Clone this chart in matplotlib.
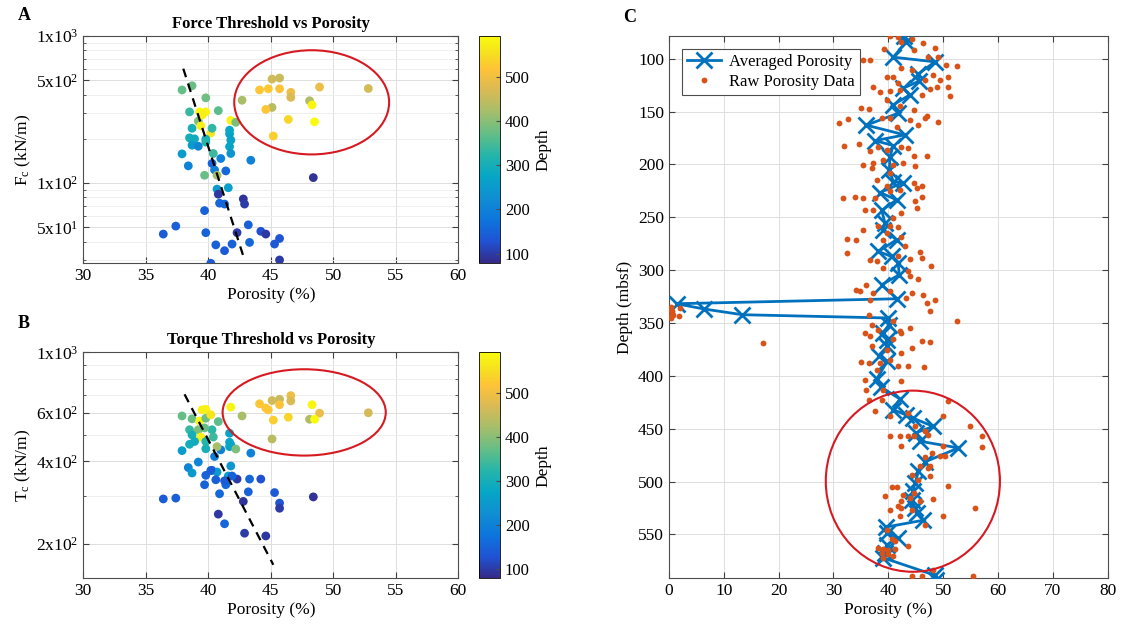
import matplotlib
matplotlib.use("Agg")
import matplotlib.pyplot as plt
from matplotlib.colors import LinearSegmentedColormap
from matplotlib.patches import Ellipse
from matplotlib.ticker import NullFormatter

# ---- samples: porosity, depth, force and torque thresholds ----
porosity = [
    36.4, 37.4, 37.9, 38.7, 37.9, 38.4, 38.5, 39.3, 39.8, 39.8,
    40.8, 39.2, 39.4, 40.2, 38.7, 40.3, 38.5, 38.9, 38.7, 39.2,
    39.8, 40.4, 41.0, 40.3, 40.5, 39.7, 40.7, 41.4, 41.7, 41.8,
    41.7, 41.8, 41.8, 42.2, 41.7, 43.4, 40.7, 40.8, 41.6, 40.9,
    41.3, 42.8, 42.9, 39.7, 39.8, 42.3, 43.2, 44.2, 44.6, 45.7,
    45.3, 40.6, 41.3, 41.9, 43.3, 45.7, 40.2, 48.4, 42.7, 44.1,
    44.8, 45.1, 45.7, 45.7, 46.6, 46.6, 48.9, 52.8, 48.1, 48.3,
    45.1, 44.6, 46.4, 48.5, 45.2, 39.5, 39.8,
]
depth = [
    140, 145, 370, 375, 255, 205, 335, 585, 580, 380,
    365, 390, 575, 560, 300, 330, 295, 290, 250, 210,
    300, 340, 200, 150, 195, 375, 425, 160, 270, 265,
    270, 240, 580, 390, 275, 200, 250, 95, 260, 160,
    155, 92, 100, 150, 150, 100, 150, 125, 95, 130,
    135, 145, 140, 150, 155, 100, 140, 90, 425, 520,
    525, 460, 455, 515, 495, 470, 490, 465, 430, 585,
    440, 520, 540, 590, 530, 575, 320,
]
force_c = [
    45, 51, 430, 459, 158, 131, 305, 305, 305, 380,
    311, 264, 245, 219, 236, 236, 203, 200, 181, 178,
    199, 159, 147, 136, 123, 113, 113, 121, 216, 196,
    177, 159, 267, 259, 229, 143, 91, 84, 93, 73,
    72, 78, 72, 65, 46, 46, 52, 47, 45, 42,
    38.5, 38, 34.7, 38.5, 39.5, 30, 28.5, 109, 366, 430,
    438, 510, 518, 438, 414, 383, 450, 440, 363, 340,
    327, 317, 271, 261, 209, 290, 190,
]
torque_c = [
    292, 294, 586, 572, 438, 380, 522, 562, 620, 575,
    559, 522, 491, 592, 500, 522, 462, 473, 363, 398,
    445, 491, 441, 371, 417, 530, 453, 329, 507, 460,
    453, 385, 631, 444, 470, 429, 366, 257, 354, 305,
    237, 286, 219, 329, 356, 345, 310, 345, 214, 282,
    308, 343, 340, 354, 345, 270, 371, 297, 586, 649,
    617, 667, 674, 644, 695, 665, 600, 602, 570, 644,
    483, 626, 580, 570, 566, 617, 473,
]

# trend lines (porosity, value) end points
force_trend_por = [38.0, 42.9]
force_trend_val = [600, 30]
torque_trend_por = [38.1, 45.2]
torque_trend_val = [703, 168]

# ---- averaged porosity profile ----
avg_depth = [
    78.5, 83.9, 98.6, 103.0, 114.4, 121.3, 128.0, 134.3, 143.7, 151.6,
    162.9, 172.1, 177.5, 182.2, 192.6, 205.2, 216.2, 217.2, 226.6, 233.5,
    243.6, 255.5, 261.9, 271.3, 282.4, 287.1, 293.3, 304.4, 313.8, 327.1,
    331.8, 336.8, 342.2, 345.3, 351.6, 359.5, 365.8, 372.2, 381.6, 386.3,
    403.0, 410.6, 421.9, 432.0, 437.0, 440.0, 447.8, 454.0, 461.9, 468.2,
    481.4, 490.3, 501.3, 509.2, 517.1, 525.0, 529.7, 536.6, 543.0, 548.6,
    553.3, 559.6, 567.5, 572.2, 588.6, 592.7,
]
avg_por = [
    42.9, 43.3, 40.9, 48.5, 45.5, 45.6, 42.7, 43.9, 40.9, 41.8,
    36.0, 43.0, 37.6, 40.9, 40.3, 40.2, 40.9, 42.7, 38.5, 41.5,
    38.8, 39.4, 39.1, 41.5, 38.2, 40.6, 41.8, 42.0, 38.8, 41.6,
    1.4, 6.4, 13.4, 40.0, 40.1, 39.1, 39.7, 39.8, 38.3, 39.8,
    37.9, 38.7, 42.1, 40.9, 43.2, 44.5, 48.2, 45.0, 45.8, 52.8,
    46.7, 45.5, 44.9, 44.5, 44.3, 44.9, 45.2, 46.4, 39.6, 39.7,
    41.8, 39.8, 39.4, 39.1, 48.5, 48.7,
]

# ---- raw porosity measurements ----
raw_depth = [
    78.5, 79.8, 81.7, 84.8, 83.8, 91.1, 89.5, 91.7, 98.7, 101.2,
    101.2, 105.9, 106.5, 98.7, 109.1, 110.6, 115.4, 120.1, 117.6, 126.4,
    135.2, 116.9, 117.6, 123.2, 120.1, 128.9, 127.0, 131.1, 130.2, 129.5,
    134.3, 127.0, 146.9, 147.8, 139.0, 144.7, 148.5, 154.1, 156.3, 159.5,
    157.3, 160.4, 156.3, 156.3, 157.9, 162.6, 164.2, 182.5, 180.9, 187.8,
    183.1, 186.3, 183.1, 184.7, 192.0, 192.0, 200.4, 198.9, 195.7, 200.4,
    198.9, 201.4, 203.6, 214.6, 208.3, 217.8, 222.5, 220.9, 225.6, 224.6,
    231.9, 230.4, 231.9, 231.9, 220.9, 235.1, 230.4, 243.6, 243.0, 241.4,
    246.1, 250.8, 261.9, 258.7, 258.7, 259.7, 265.0, 270.7, 271.3, 271.3,
    268.8, 277.6, 283.9, 290.2, 291.8, 287.1, 289.6, 283.0, 288.6, 296.0,
    298.1, 301.3, 305.9, 308.5, 313.8, 320.2, 318.6, 321.7, 320.2, 321.7,
    323.3, 328.0, 328.0, 326.5, 331.2, 339.1,
    334.5, 337.5, 339.0, 340.6, 342.0, 343.5, 345.0, 343.0, 336.0,
    342.2, 348.5, 354.8, 359.5, 351.6, 356.4, 348.5, 358.0, 369.0,
    362.0, 365.2, 359.5, 373.7, 367.4, 368.3, 372.1, 375.3, 378.4, 386.9,
    387.9, 387.9, 384.7, 391.0, 391.0, 392.0,
    394.2, 404.2, 404.6, 413.0, 413.0, 422.5, 422.5, 424.1, 432.9, 435.1,
    438.3, 438.3, 447.7, 447.7, 452.4, 456.5, 457.2, 457.2, 457.2, 455.6,
    457.2, 466.6, 466.6, 467.6, 472.9, 475.4, 476.1, 476.7, 485.5, 487.1,
    485.5, 495.0, 493.4, 498.1, 503.8, 505.4, 505.1, 510.7, 513.9, 512.3,
    515.5, 516.4, 518.6, 518.6, 524.9, 523.3, 524.9, 526.5, 527.1, 532.8,
    532.8, 540.7, 545.4, 554.8, 556.4, 561.1, 562.7, 563.7, 564.3, 563.7,
    567.4, 569.0, 570.6, 572.2, 588.9, 588.9, 588.9, 583.2,
]
raw_por = [
    40.3, 41.7, 44.3, 46.4, 42.4, 39.3, 48.5, 44.6, 49.1, 35.4,
    36.7, 50.6, 52.5, 47.3, 42.4, 44.3, 48.2, 49.4, 50.9, 50.9,
    51.2, 39.7, 40.9, 41.8, 46.7, 47.6, 37.3, 38.4, 40.3, 42.1,
    46.1, 48.8, 35.1, 36.4, 39.7, 42.1, 44.6, 47.0, 46.7, 49.1,
    32.7, 31.1, 38.8, 40.3, 44.0, 45.5, 41.5, 32.0, 34.7, 36.7,
    38.2, 39.7, 42.4, 43.6, 44.6, 47.0, 35.4, 37.3, 39.1, 40.9,
    42.7, 44.9, 37.0, 37.9, 40.3, 44.6, 45.2, 46.1, 40.3, 42.1,
    31.8, 33.9, 35.4, 37.6, 39.7, 44.9, 46.1, 35.7, 37.3, 45.2,
    42.4, 40.9, 35.4, 38.2, 40.3, 41.8, 39.7, 32.4, 34.2, 39.1,
    42.4, 43.0, 32.5, 36.7, 37.9, 41.8, 44.0, 45.7, 46.1, 47.8,
    39.1, 43.6, 44.0, 45.5, 36.0, 34.8, 34.2, 37.3, 40.3, 44.3,
    46.4, 48.5, 36.6, 43.3, 47.0, 47.6,
    0.3, 0.4, 0.5, 0.5, 0.7, 0.4, 0.3, 1.8, 2.0,
    36.4, 52.5, 44.0, 35.7, 37.0, 38.2, 40.9, 42.1, 17.2,
    36.7, 40.9, 42.4, 44.3, 46.1, 47.6, 37.0, 39.7, 42.4, 35.1,
    36.4, 38.5, 40.3, 41.8, 43.6, 46.5,
    37.9, 35.7, 42.4, 36.0, 39.0, 36.5, 38.8, 50.9, 37.6, 43.6,
    40.3, 50.0, 44.9, 54.9, 46.7, 40.3, 42.1, 43.6, 44.6, 47.3,
    57.0, 42.4, 50.0, 57.0, 47.9, 49.4, 50.3, 46.7, 45.8, 47.3,
    47.6, 47.6, 44.3, 45.5, 50.9, 40.6, 41.5, 44.6, 39.4, 42.7,
    44.0, 48.2, 42.4, 45.8, 55.8, 41.8, 42.4, 44.3, 40.3, 50.0,
    42.1, 46.7, 39.7, 40.6, 41.2, 43.6, 38.2, 39.1, 40.0, 41.2,
    38.8, 40.0, 40.9, 39.1, 44.3, 46.1, 55.5, 48.2,
]

# parula-like colour map
parula_anchors = [
    (0.0, (0.2081, 0.1663, 0.5292)),
    (0.095, (0.1253, 0.3242, 0.8303)),
    (0.19, (0.0498, 0.4586, 0.8641)),
    (0.286, (0.0641, 0.5570, 0.8240)),
    (0.381, (0.0228, 0.6535, 0.7768)),
    (0.476, (0.1453, 0.7098, 0.6646)),
    (0.571, (0.3953, 0.7459, 0.5244)),
    (0.667, (0.6473, 0.7456, 0.4188)),
    (0.762, (0.8507, 0.7299, 0.3360)),
    (0.857, (0.9990, 0.7653, 0.2164)),
    (0.921, (0.9626, 0.8705, 0.1309)),
    (1.0, (0.9763, 0.9831, 0.0538)),
]
parula = LinearSegmentedColormap.from_list("parula", parula_anchors)

BLUE = (0.0, 0.447, 0.741)
ORANGE = (0.85, 0.325, 0.098)
RED = (0.84, 0.1, 0.13)
DEPTH_MIN, DEPTH_MAX = 78.5, 591.5

plt.rcParams["font.family"] = ["Liberation Serif", "DejaVu Serif"]
plt.rcParams["mathtext.fontset"] = "custom"
plt.rcParams["mathtext.rm"] = "Liberation Serif"
plt.rcParams["mathtext.it"] = "Liberation Serif:italic"


def style_axes(ax):
    ax.tick_params(which="both", direction="in", top=True, right=True,
                   labelsize=12.5, color="0.25")
    ax.tick_params(which="major", length=4)
    ax.tick_params(which="minor", length=2)
    for sp in ax.spines.values():
        sp.set_color("0.3")
        sp.set_linewidth(0.8)
    ax.grid(True, which="major", color="0.87", linewidth=0.7)
    ax.set_axisbelow(True)


def threshold_panel(fig, rect, cbar_rect, values, ylim, yticks, ylabels,
                    trend_por, trend_val, title, ylabel, ellipse):
    ax = fig.add_axes(rect)
    style_axes(ax)
    ax.set_yscale("log")
    ax.grid(True, which="minor", axis="y", color="0.93", linewidth=0.6)
    sc = ax.scatter(porosity, values, c=depth, cmap=parula,
                    vmin=DEPTH_MIN, vmax=DEPTH_MAX, s=40, linewidths=0,
                    zorder=3)
    ax.plot(trend_por, trend_val, color="k", linestyle=(0, (4, 3)),
            linewidth=1.6, zorder=4)
    ax.add_patch(Ellipse(ellipse[:2], ellipse[2], ellipse[3],
                         transform=ax.transAxes, fill=False, edgecolor=RED,
                         linewidth=1.5, zorder=5))
    ax.set_xlim(30, 60)
    ax.set_ylim(*ylim)
    ax.set_xticks(range(30, 61, 5))
    ax.set_yticks(yticks)
    ax.set_yticklabels(ylabels)
    ax.yaxis.set_minor_formatter(NullFormatter())
    ax.set_xlabel("Porosity (%)", fontsize=12.5, labelpad=2)
    ax.set_ylabel(ylabel, fontsize=12.5, labelpad=2)
    ax.set_title(title, fontsize=12, fontweight="bold", pad=6)

    cax = fig.add_axes(cbar_rect)
    cb = fig.colorbar(sc, cax=cax)
    cb.set_ticks([100, 200, 300, 400, 500])
    cb.outline.set_linewidth(0.6)
    cax.tick_params(direction="in", length=3, labelsize=12, color="0.3")
    cb.set_label("Depth", fontsize=12.5, labelpad=4)
    return ax


def main():
    fig = plt.figure(figsize=(11.3, 6.27), dpi=100)

    threshold_panel(
        fig, [0.0737, 0.5805, 0.3319, 0.362], [0.4239, 0.5805, 0.0186, 0.362],
        force_c, (28.6, 1000), [50, 100, 500, 1000],
        ["5x10$^1$", "1x10$^2$", "5x10$^2$", "1x10$^3$"],
        force_trend_por, force_trend_val,
        "Force Threshold vs Porosity", "F$_\\mathrm{c}$ (kN/m)",
        (0.609, 0.708, 0.413, 0.459),
    )
    threshold_panel(
        fig, [0.0737, 0.0777, 0.3319, 0.3604], [0.4239, 0.0777, 0.0186, 0.3604],
        torque_c, (150, 1000), [200, 400, 600, 1000],
        ["2x10$^2$", "4x10$^2$", "6x10$^2$", "1x10$^3$"],
        torque_trend_por, torque_trend_val,
        "Torque Threshold vs Porosity", "T$_\\mathrm{c}$ (kN/m)",
        (0.589, 0.734, 0.435, 0.382),
    )

    # depth profile
    ax = fig.add_axes([0.592, 0.0777, 0.3882, 0.865])
    style_axes(ax)
    ax.plot(avg_por, avg_depth, "-x", color=BLUE, linewidth=2,
            markersize=11, markeredgewidth=2, label="Averaged Porosity",
            zorder=3)
    ax.plot(raw_por, raw_depth, "o", color=ORANGE, markersize=4.2,
            markeredgewidth=0, linestyle="none", label="Raw Porosity Data",
            zorder=4)
    ax.add_patch(Ellipse((0.556, 0.179), 0.397, 0.334, transform=ax.transAxes,
                         fill=False, edgecolor=RED, linewidth=1.5, zorder=5))
    ax.set_xlim(0, 80)
    ax.set_ylim(DEPTH_MAX, DEPTH_MIN)
    ax.set_xticks(range(0, 81, 10))
    ax.set_yticks(range(100, 551, 50))
    ax.set_xlabel("Porosity (%)", fontsize=12.5, labelpad=2)
    ax.set_ylabel("Depth (mbsf)", fontsize=12.5, labelpad=4)
    leg = ax.legend(loc="upper left", fontsize=12, fancybox=False,
                    framealpha=1, edgecolor="0.3", borderaxespad=0.8,
                    handlelength=2.0, borderpad=0.3, labelspacing=0.2,
                    handletextpad=0.5)
    leg.get_frame().set_linewidth(0.8)

    for label, x, y in [("A", 0.016, 0.975), ("B", 0.016, 0.484),
                        ("C", 0.551, 0.972)]:
        fig.text(x, y, label, fontsize=13, fontweight="bold", va="center")

    fig.savefig("out.png", dpi=100)


if __name__ == "__main__":
    main()
